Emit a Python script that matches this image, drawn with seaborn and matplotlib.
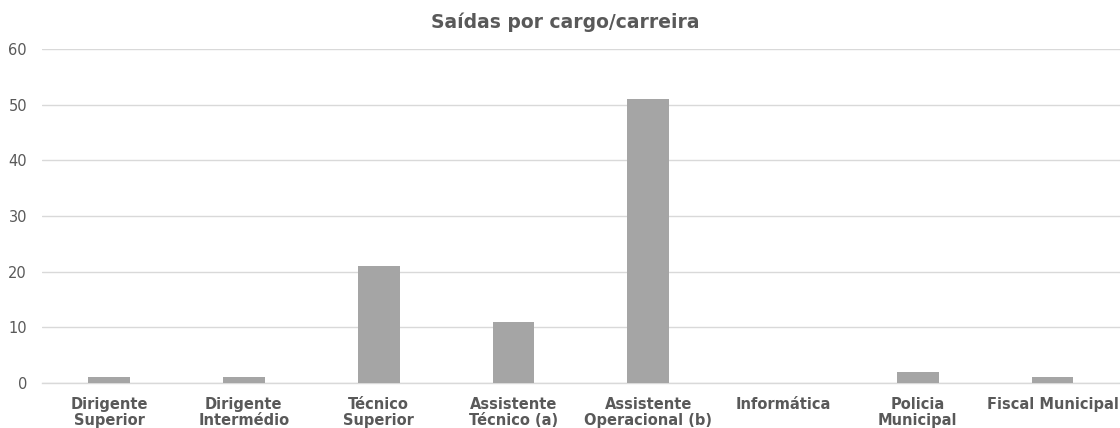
import matplotlib
matplotlib.use("Agg")
import matplotlib.pyplot as plt
import seaborn as sns
import pandas as pd

categories = ["Dirigente\nSuperior", "Dirigente\nIntermédio", "Técnico\nSuperior",
              "Assistente\nTécnico (a)", "Assistente\nOperacional (b)", "Informática",
              "Policia\nMunicipal", "Fiscal Municipal"]
values = [1, 1, 21, 11, 51, 0, 2, 1]
title = "Saídas por cargo/carreira"

sns.set_theme(style="white")
plt.rcParams['font.family'] = ['DejaVu Sans']

df = pd.DataFrame({"cat": categories, "val": values})

fig = plt.figure(figsize=(11.2, 4.28), dpi=100)
ax = fig.add_axes([0.0372, 0.105, 0.9628, 0.7804])

sns.barplot(data=df, x="cat", y="val", color="#A5A5A5", width=0.31,
            saturation=1, ax=ax, zorder=3, linewidth=0)

ax.set_ylim(0, 60)
ax.set_yticks(range(0, 61, 10))
ax.set_xlim(-0.5, len(categories) - 0.5)
ax.grid(axis="y", color="#D9D9D9", linewidth=1, zorder=0)
ax.set_axisbelow(True)
for s in ["top", "right", "left"]:
    ax.spines[s].set_visible(False)
ax.spines["bottom"].set_color("#D9D9D9")
ax.spines["bottom"].set_linewidth(1)
ax.set_xlabel("")
ax.set_ylabel("")
ax.tick_params(axis="y", colors="#595959", labelsize=10.5, length=0, pad=10.5)
ax.tick_params(axis="x", colors="#595959", labelsize=10.5, length=0, pad=10)
for lab in ax.get_xticklabels():
    lab.set_fontweight("bold")
    lab.set_linespacing(1.05)

fig.text(0.505, 0.949, title, ha="center", va="center", fontsize=13.5,
         fontweight="bold", color="#595959")

fig.savefig("out.png", dpi=100)
